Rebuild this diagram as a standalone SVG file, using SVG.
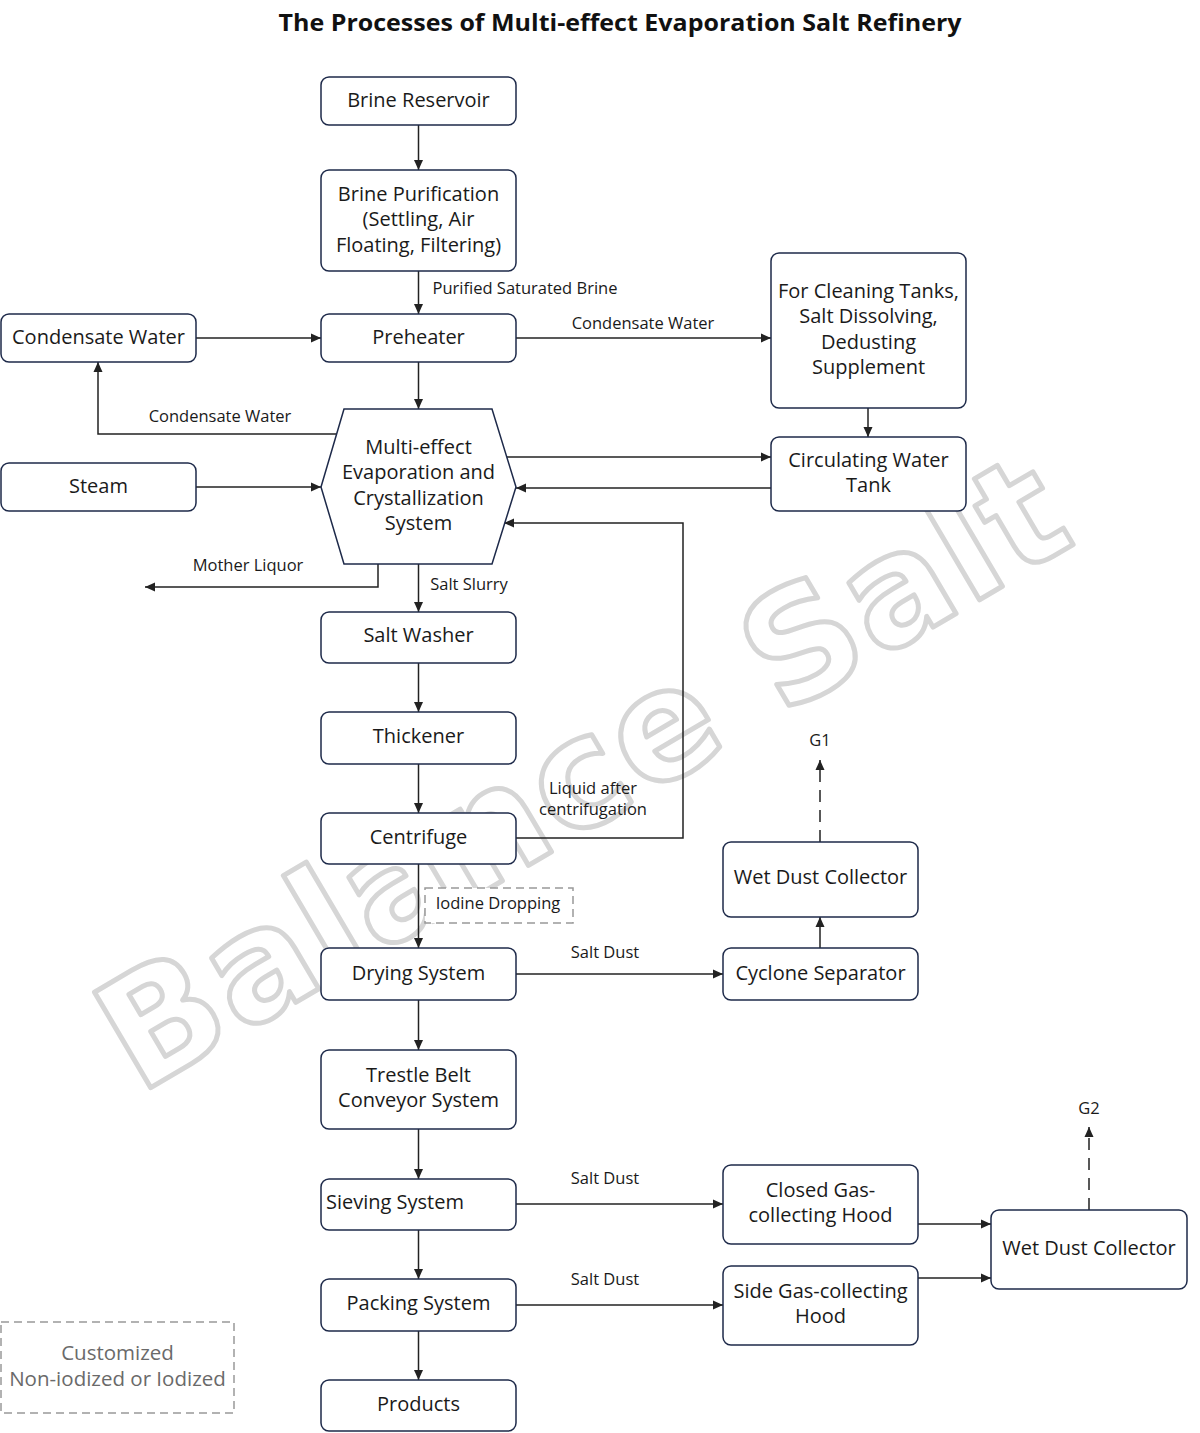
<svg xmlns="http://www.w3.org/2000/svg" width="1200" height="1433" viewBox="0 0 1200 1433">
<defs>
<marker id="ah" viewBox="0 0 10 10" refX="10" refY="5" markerWidth="10" markerHeight="10" markerUnits="userSpaceOnUse" orient="auto"><path d="M0,0.5 L10,5 L0,9.5 Z" fill="#222"/></marker>
<style>
.box{fill:#fff;stroke:#1e2a4a;stroke-width:1.5}
.t{font-family:"Open Sans","Noto Sans",sans-serif;font-size:20px;fill:#1a1a1a;text-anchor:middle}
.l{font-family:"Open Sans","Noto Sans",sans-serif;font-size:16.5px;fill:#1a1a1a;text-anchor:middle}
.c{fill:none;stroke:#222;stroke-width:1.5;marker-end:url(#ah)}
.d{fill:none;stroke:#222;stroke-width:1.5;stroke-dasharray:12 8;marker-end:url(#ah)}
.db{fill:#fff;stroke:#999;stroke-width:1.5;stroke-dasharray:8 5}
</style>
</defs>
<rect width="1200" height="1433" fill="#fff"/>
<text x="620" y="31" font-family="Open Sans,Noto Sans,sans-serif" font-size="23" font-weight="bold" text-anchor="middle" fill="#111" textLength="683" lengthAdjust="spacingAndGlyphs">The Processes of Multi-effect Evaporation Salt Refinery</text>

<g id="watermark" transform="translate(580,770) rotate(-30.5)">
<text x="0" y="56" font-family="DejaVu Sans,Verdana,sans-serif" font-size="152" font-weight="bold" text-anchor="middle" fill="none" stroke="#d6d6d6" stroke-width="5" stroke-linejoin="round" textLength="1090" lengthAdjust="spacing">Balance Salt</text>
</g>

<g id="connectors">
<path class="c" d="M418.5,125 V170"/>
<path class="c" d="M418.5,271 V314"/>
<path class="c" d="M196,338 H321"/>
<path class="c" d="M516,338 H771"/>
<path class="c" d="M418.5,362 V409"/>
<path class="c" d="M337,434 H98 V362"/>
<path class="c" d="M196,487 H321"/>
<path class="c" d="M507,457 H771"/>
<path class="c" d="M771,488 H516"/>
<path class="c" d="M868,408 V437"/>
<path class="c" d="M516,838 H683 V523 H504"/>
<path class="c" d="M378,564 V587 H145"/>
<path class="c" d="M418.5,564 V612"/>
<path class="c" d="M418.5,663 V712"/>
<path class="c" d="M418.5,764 V813"/>
<path class="c" d="M418.5,864 V948"/>
<path class="c" d="M516,974 H723"/>
<path class="c" d="M820,948 V917"/>
<path class="d" d="M820,842 V760"/>
<path class="c" d="M418.5,1000 V1050"/>
<path class="c" d="M418.5,1129 V1179"/>
<path class="c" d="M516,1204 H723"/>
<path class="c" d="M418.5,1230 V1279"/>
<path class="c" d="M516,1305 H723"/>
<path class="c" d="M418.5,1331 V1380"/>
<path class="c" d="M918,1224 H991"/>
<path class="c" d="M918,1278 H991"/>
<path class="d" d="M1089,1210 V1127"/>
<text class="l" x="525" y="294">Purified Saturated Brine</text>
<text class="l" x="643" y="329">Condensate Water</text>
<text class="l" x="220" y="422">Condensate Water</text>
<text class="l" x="248" y="571">Mother Liquor</text>
<text class="l" x="469" y="590">Salt Slurry</text>
<text class="l" x="593" y="794">Liquid after</text>
<text class="l" x="593" y="815">centrifugation</text>
<text class="l" x="605" y="958">Salt Dust</text>
<text class="l" x="820" y="746">G1</text>
<text class="l" x="605" y="1184">Salt Dust</text>
<text class="l" x="605" y="1285">Salt Dust</text>
<text class="l" x="1089" y="1114">G2</text>
</g>

<g id="n-brine-reservoir"><rect class="box" x="321" y="77" width="195" height="48" rx="8"/><text class="t" x="418.5" y="107">Brine Reservoir</text></g>
<g id="n-brine-purification"><rect class="box" x="321" y="170" width="195" height="101" rx="8"/><text class="t" x="418.5" y="201">Brine Purification</text><text class="t" x="418.5" y="226">(Settling, Air</text><text class="t" x="418.5" y="252">Floating, Filtering)</text></g>
<g id="n-condensate-water"><rect class="box" x="1" y="314" width="195" height="48" rx="8"/><text class="t" x="98.5" y="344">Condensate Water</text></g>
<g id="n-preheater"><rect class="box" x="321" y="314" width="195" height="48" rx="8"/><text class="t" x="418.5" y="344">Preheater</text></g>
<g id="n-cleaning"><rect class="box" x="771" y="253" width="195" height="155" rx="8"/><text class="t" x="868.5" y="298">For Cleaning Tanks,</text><text class="t" x="868.5" y="323">Salt Dissolving,</text><text class="t" x="868.5" y="349">Dedusting</text><text class="t" x="868.5" y="374">Supplement</text></g>
<g id="n-evaporation"><path class="box" d="M344,409 H492 L516,487 L492,564 H344 L321,487 Z"/><text class="t" x="418.5" y="454">Multi-effect</text><text class="t" x="418.5" y="479">Evaporation and</text><text class="t" x="418.5" y="505">Crystallization</text><text class="t" x="418.5" y="530">System</text></g>
<g id="n-steam"><rect class="box" x="1" y="463" width="195" height="48" rx="8"/><text class="t" x="98.5" y="493">Steam</text></g>
<g id="n-circulating"><rect class="box" x="771" y="437" width="195" height="74" rx="8"/><text class="t" x="868.5" y="467">Circulating Water</text><text class="t" x="868.5" y="492">Tank</text></g>
<g id="n-salt-washer"><rect class="box" x="321" y="612" width="195" height="51" rx="8"/><text class="t" x="418.5" y="642">Salt Washer</text></g>
<g id="n-thickener"><rect class="box" x="321" y="712" width="195" height="52" rx="8"/><text class="t" x="418.5" y="743">Thickener</text></g>
<g id="n-centrifuge"><rect class="box" x="321" y="813" width="195" height="51" rx="8"/><text class="t" x="418.5" y="844">Centrifuge</text></g>
<g id="n-iodine"><rect class="db" x="425" y="888" width="148" height="35"/><text class="l" x="498" y="909">Iodine Dropping</text></g>
<g id="n-drying"><rect class="box" x="321" y="948" width="195" height="52" rx="8"/><text class="t" x="418.5" y="980">Drying System</text></g>
<g id="n-cyclone"><rect class="box" x="723" y="948" width="195" height="52" rx="8"/><text class="t" x="820.5" y="980">Cyclone Separator</text></g>
<g id="n-wet-dust-1"><rect class="box" x="723" y="842" width="195" height="75" rx="8"/><text class="t" x="820.5" y="884">Wet Dust Collector</text></g>
<g id="n-trestle"><rect class="box" x="321" y="1050" width="195" height="79" rx="8"/><text class="t" x="418.5" y="1082">Trestle Belt</text><text class="t" x="418.5" y="1107">Conveyor System</text></g>
<g id="n-sieving"><rect class="box" x="321" y="1179" width="195" height="51" rx="8"/><text class="t" x="326" y="1209" style="text-anchor:start">Sieving System</text></g>
<g id="n-closed-hood"><rect class="box" x="723" y="1165" width="195" height="79" rx="8"/><text class="t" x="820.5" y="1197">Closed Gas-</text><text class="t" x="820.5" y="1222">collecting Hood</text></g>
<g id="n-packing"><rect class="box" x="321" y="1279" width="195" height="52" rx="8"/><text class="t" x="418.5" y="1310">Packing System</text></g>
<g id="n-side-hood"><rect class="box" x="723" y="1266" width="195" height="79" rx="8"/><text class="t" x="820.5" y="1298">Side Gas-collecting</text><text class="t" x="820.5" y="1323">Hood</text></g>
<g id="n-wet-dust-2"><rect class="box" x="991" y="1210" width="196" height="79" rx="8"/><text class="t" x="1089" y="1255">Wet Dust Collector</text></g>
<g id="n-products"><rect class="box" x="321" y="1380" width="195" height="51" rx="8"/><text class="t" x="418.5" y="1411">Products</text></g>
<g id="n-customized"><rect class="db" x="1" y="1322" width="233" height="91"/><text class="t" x="117.5" y="1360" style="fill:#6a6a6a;font-size:20.5px">Customized</text><text class="t" x="117.5" y="1386" style="fill:#6a6a6a;font-size:20.5px">Non-iodized or Iodized</text></g>
</svg>
